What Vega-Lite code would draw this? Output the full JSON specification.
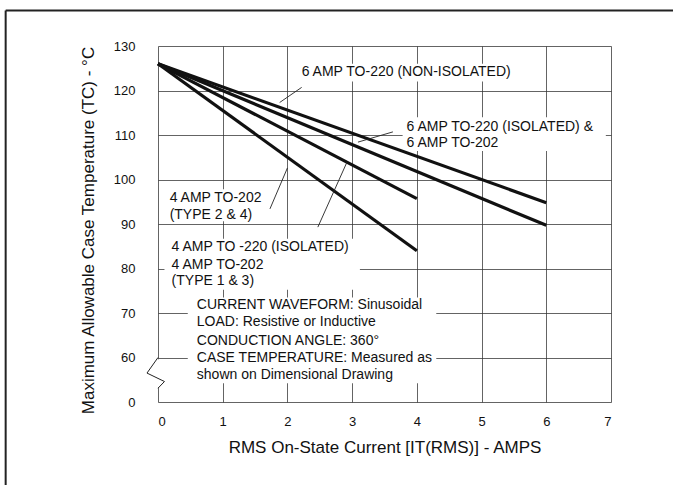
{
  "$schema": "https://vega.github.io/schema/vega-lite/v6.json",
  "width": 453,
  "height": 356,
  "autosize": {"type": "none"},
  "padding": {"left": 158, "top": 46, "right": 62, "bottom": 83},
  "background": "white",
  "config": {
    "view": {"stroke": null},
    "font": "Liberation Sans",
    "axis": {"labelFont": "Liberation Sans", "titleFont": "Liberation Sans", "labelColor": "#111", "titleColor": "#111", "titleFontWeight": "normal", "gridColor": "#333", "gridWidth": 0.9, "gridOpacity": 0.85, "ticks": false, "domain": false}
  },
  "datasets": {
    "curves": [
      {"series": "6A TO-220 non-isolated", "current": 0, "temp": 126},
      {"series": "6A TO-220 non-isolated", "current": 6, "temp": 94.8},
      {"series": "6A TO-220 isolated & TO-202", "current": 0, "temp": 126},
      {"series": "6A TO-220 isolated & TO-202", "current": 6, "temp": 89.7},
      {"series": "4A TO-202 type 2&4", "current": 0, "temp": 126},
      {"series": "4A TO-202 type 2&4", "current": 4, "temp": 95.7},
      {"series": "4A TO-220 isolated / TO-202 type 1&3", "current": 0, "temp": 126},
      {"series": "4A TO-220 isolated / TO-202 type 1&3", "current": 4, "temp": 84}
    ],
    "labels": [
      {"text": "6 AMP TO-220 (NON-ISOLATED)", "x": 2.22, "y": 124.1},
      {"text": "6 AMP TO-220 (ISOLATED) &", "x": 3.84, "y": 111.9},
      {"text": "6 AMP TO-202", "x": 3.84, "y": 108.3},
      {"text": "4 AMP TO-202", "x": 0.18, "y": 95.8},
      {"text": "(TYPE 2 & 4)", "x": 0.18, "y": 92.0},
      {"text": "4 AMP TO -220 (ISOLATED)", "x": 0.21, "y": 84.8},
      {"text": "4 AMP TO-202", "x": 0.21, "y": 80.7},
      {"text": "(TYPE 1 & 3)", "x": 0.21, "y": 77.1},
      {"text": "CURRENT WAVEFORM: Sinusoidal", "x": 0.6, "y": 71.7},
      {"text": "LOAD: Resistive or Inductive", "x": 0.6, "y": 67.9},
      {"text": "CONDUCTION ANGLE: 360°", "x": 0.6, "y": 63.8},
      {"text": "CASE TEMPERATURE: Measured as", "x": 0.6, "y": 59.8},
      {"text": "shown on Dimensional Drawing", "x": 0.6, "y": 56.0}
    ],
    "leaders": [
      {"x": 1.88, "y": 117.3, "x2": 2.22, "y2": 120.7},
      {"x": 3.09, "y": 108.4, "x2": 3.63, "y2": 110.7},
      {"x": 1.73, "y": 93.4, "x2": 2.0, "y2": 102.6},
      {"x": 2.47, "y": 89.3, "x2": 2.92, "y2": 103.9}
    ],
    "boxes": [
      {"x": 2.16, "x2": 5.62, "y": 126.0, "y2": 122.0},
      {"x": 3.78, "x2": 6.92, "y": 114.0, "y2": 106.4},
      {"x": 0.1, "x2": 1.5, "y": 97.8, "y2": 90.6},
      {"x": 0.1, "x2": 3.12, "y": 86.7, "y2": 75.2},
      {"x": 0.46, "x2": 4.3, "y": 73.5, "y2": 54.2},
      {"x": -0.03, "x2": 0.03, "y": 59.6, "y2": 53.3}
    ],
    "breakmark": [
      {"i": 0, "x": 0.0, "y": 60.0},
      {"i": 1, "x": -0.17, "y": 56.5},
      {"i": 2, "x": 0.1, "y": 54.6},
      {"i": 3, "x": 0.0, "y": 53.1}
    ],
    "frame": [
      {"x": -2.354, "y": 138.0, "x2": -2.354, "y2": 20},
      {"x": -2.354, "y": 138.0, "x2": 9, "y2": 138.0}
    ]
  },
  "layer": [
    {
      "data": {"name": "boxes"},
      "mark": {"type": "rect", "fill": "white", "stroke": null},
      "encoding": {
        "x": {"field": "x", "type": "quantitative", "scale": {"domain": [0, 7], "nice": false, "zero": false},
          "axis": {"values": [0, 1, 2, 3, 4, 5, 6, 7], "format": "d", "title": "RMS On-State Current [IT(RMS)] - AMPS", "labelFontSize": 13, "labelPadding": 13, "titleFontSize": 17, "titleBaseline": "middle", "titleY": 45, "grid": true}},
        "x2": {"field": "x2"},
        "y": {"field": "y", "type": "quantitative", "scale": {"domain": [50, 130], "nice": false, "zero": false},
          "axis": {"values": [50, 60, 70, 80, 90, 100, 110, 120, 130], "labelExpr": "datum.value == 50 ? '0' : datum.label", "title": "Maximum Allowable Case Temperature (TC) - °C", "labelFontSize": 13, "labelPadding": 23, "titleFontSize": 17, "titleAngle": 270, "titleBaseline": "middle", "titleAlign": "center", "titleX": -70, "titleY": 184, "grid": true}},
        "y2": {"field": "y2"}
      }
    },
    {
      "data": {"name": "frame"},
      "mark": {"type": "rule", "color": "#222", "strokeWidth": 2},
      "encoding": {
        "x": {"field": "x", "type": "quantitative"},
        "x2": {"field": "x2"},
        "y": {"field": "y", "type": "quantitative"},
        "y2": {"field": "y2"}
      }
    },
    {
      "data": {"name": "curves"},
      "mark": {"type": "line", "color": "#111", "strokeWidth": 3.2, "strokeCap": "butt"},
      "encoding": {
        "x": {"field": "current", "type": "quantitative"},
        "y": {"field": "temp", "type": "quantitative"},
        "detail": {"field": "series"}
      }
    },
    {
      "data": {"name": "leaders"},
      "mark": {"type": "rule", "color": "#222", "strokeWidth": 0.9},
      "encoding": {
        "x": {"field": "x", "type": "quantitative"},
        "x2": {"field": "x2"},
        "y": {"field": "y", "type": "quantitative"},
        "y2": {"field": "y2"}
      }
    },
    {
      "data": {"name": "breakmark"},
      "mark": {"type": "line", "color": "#222", "strokeWidth": 1},
      "encoding": {
        "x": {"field": "x", "type": "quantitative"},
        "y": {"field": "y", "type": "quantitative"},
        "order": {"field": "i"}
      }
    },
    {
      "data": {"name": "labels"},
      "mark": {"type": "text", "align": "left", "baseline": "middle", "fontSize": 14, "color": "#111", "font": "Liberation Sans"},
      "encoding": {
        "x": {"field": "x", "type": "quantitative"},
        "y": {"field": "y", "type": "quantitative"},
        "text": {"field": "text"}
      }
    }
  ]
}
